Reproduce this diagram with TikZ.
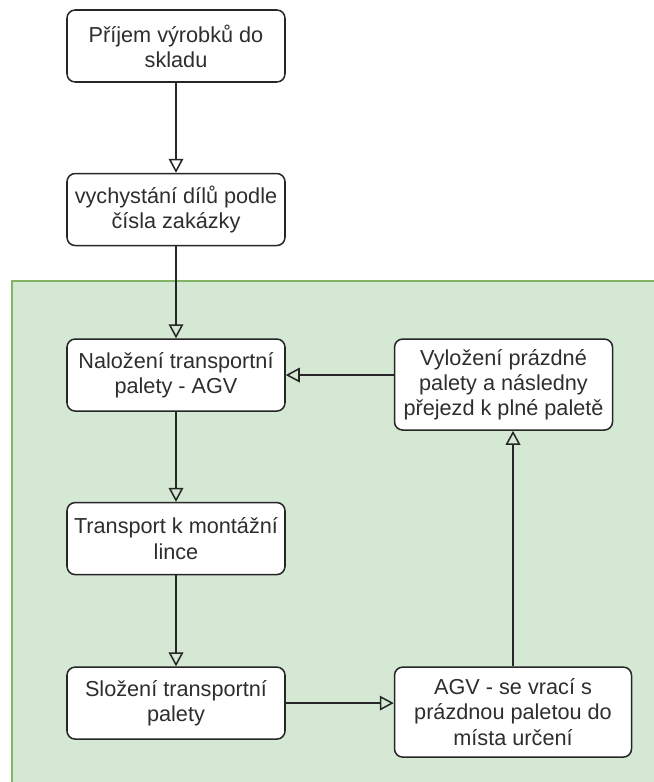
\documentclass[tikz,border=0pt]{standalone}
\usepackage{fontspec}
\setmainfont{Liberation Sans}
\usepackage{xcolor}
\usetikzlibrary{arrows.meta, positioning}
\definecolor{zonefill}{HTML}{D5E8D4}
\definecolor{zoneline}{HTML}{82B366}
\definecolor{textgray}{HTML}{2E2E2E}
\tikzset{
  block/.style={rectangle,rounded corners=7pt,draw=black!85,fill=white,line width=1.3pt,
    minimum width=6.54cm,minimum height=2.16cm,inner sep=2pt,align=center,text=textgray,
    font=\fontsize{18.5}{21.5}\selectfont},
  tallblock/.style={block,minimum height=2.73cm},
  wideblock/.style={block,minimum width=7.11cm,minimum height=2.7cm},
  arrow/.style={-{Triangle[open,length=4.2mm,width=4.4mm]},line width=1.3pt,draw=black!85}
}

\begin{document}
\begin{tikzpicture}
  \useasboundingbox (0,0) rectangle (19.59,-23.46);
  \fill[white] (0,0) rectangle (19.59,-23.46);
  % green zone of the AGV loop
  \draw[fill=zonefill,draw=zoneline,line width=1pt] (0.36,-8.43) rectangle (20,-24);

  \node[block] (prijem) at (5.28,-1.38) {Příjem výrobků do\\ skladu};
  \node[block, below=2.7cm of prijem] (vychystani) {vychystání dílů podle\\ čísla zakázky};
  \node[block, below=2.76cm of vychystani] (nalozeni) {Naložení transportní\\ palety - AGV};
  \node[block, below=2.7cm of nalozeni] (transport) {Transport k montážní\\ lince};
  \node[block, below=2.73cm of transport] (slozeni) {Složení transportní\\ palety};
  \node[wideblock, right=3.24cm of slozeni.north east, anchor=north west]
    (navrat) {AGV - se vrací s\\ prázdnou paletou do\\ místa určení};
  \node[tallblock, right=3.24cm of nalozeni.north east, anchor=north west]
    (vylozeni) {Vyložení prázdné\\ palety a následny\\ přejezd k plné paletě};

  \draw[arrow] (prijem) -- (vychystani);
  \draw[arrow] (vychystani) -- (nalozeni);
  \draw[arrow] (nalozeni) -- (transport);
  \draw[arrow] (transport) -- (slozeni);
  \draw[arrow] (slozeni.east) -- (slozeni.east -| navrat.west);
  \draw[arrow] (navrat.north) -- (navrat.north |- vylozeni.south);
  \draw[arrow] (vylozeni.west |- nalozeni.east) -- (nalozeni.east);
\end{tikzpicture}
\end{document}
